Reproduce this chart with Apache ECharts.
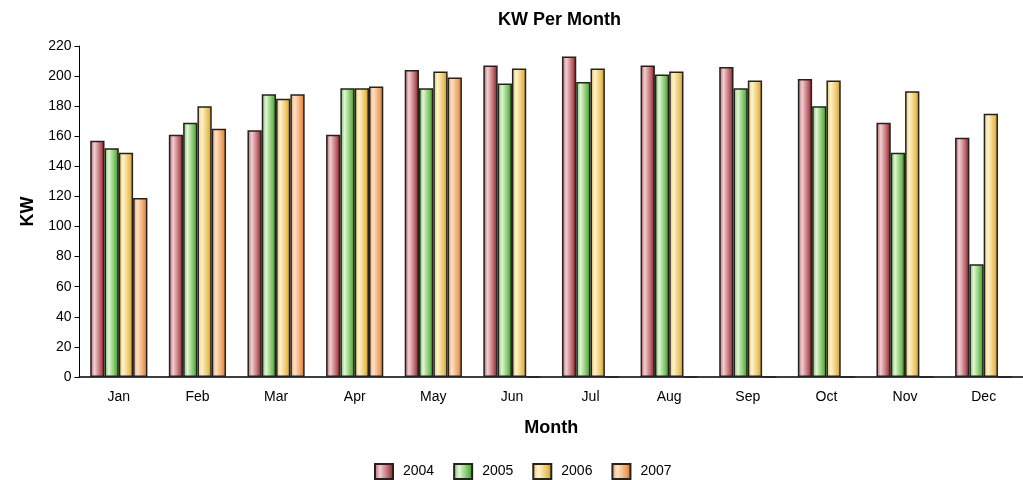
<!DOCTYPE html>
<html>
<head>
<meta charset="utf-8">
<title>KW Per Month</title>
<script src="https://cdn.jsdelivr.net/npm/echarts@6/dist/echarts.min.js"></script>
<style>
    html, body { margin: 0; padding: 0; background: #fff; }
    #chart { width: 1023px; height: 480px; }
</style>
</head>
<body>
<div id="chart"></div>
<script>
// data
var months = ['Jan', 'Feb', 'Mar', 'Apr', 'May', 'Jun', 'Jul', 'Aug', 'Sep', 'Oct', 'Nov', 'Dec'];
var years = ['2004', '2005', '2006', '2007'];
var kw2004 = [157, 161, 164, 161, 204, 207, 213, 207, 206, 198, 169, 159];
var kw2005 = [152, 169, 188, 192, 192, 195, 196, 201, 192, 180, 149, 75];
var kw2006 = [149, 180, 185, 192, 203, 205, 205, 203, 197, 197, 190, 175];
var kw2007 = [119, 165, 188, 193, 199, 0, 0, 0, 0, 0, 0, 0];

var fontName = '"Liberation Sans", Arial, sans-serif';

// cylinder like shading: mid colour, light streak, dark edge
function shade(mid, light, dark) {
    return new echarts.graphic.LinearGradient(0, 0, 1, 0, [
        { offset: 0, color: mid },
        { offset: 0.3, color: light },
        { offset: 0.75, color: mid },
        { offset: 1, color: dark }
    ]);
}

var colors = [
    shade('#b85c62', '#f0d0d3', '#7a1419'),
    shade('#74c05a', '#e2f5d5', '#368a22'),
    shade('#eac15a', '#fdf3cf', '#c69228'),
    shade('#eea05e', '#fde1c9', '#cc6c26')
];
var series_data = [kw2004, kw2005, kw2006, kw2007];

var myChart = echarts.init(document.getElementById('chart'));

var seriesList = [];
for (var i = 0; i < years.length; i++) {
    seriesList.push({
        name: years[i],
        type: 'bar',
        data: series_data[i],
        barWidth: 14.3,
        barGap: '0%',
        itemStyle: {
            color: colors[i],
            borderColor: '#222',
            borderWidth: 1.5
        }
    });
}

var option = {
    animation: false,
    title: {
        text: 'KW Per Month',
        left: 493,
        top: 6,
        textStyle: { fontFamily: fontName, fontSize: 18, fontWeight: 'bold', color: '#000' }
    },
    legend: {
        data: years,
        left: 369,
        top: 458,
        icon: 'rect',
        itemWidth: 18,
        itemHeight: 15,
        itemGap: 19,
        textStyle: { fontFamily: fontName, fontSize: 14, color: '#000', padding: [0, 0, 0, 5] }
    },
    grid: {
        left: 79.5,
        right: -11.7,
        top: 46,
        bottom: 103,
        containLabel: false
    },
    xAxis: {
        type: 'category',
        data: months,
        name: 'Month',
        nameLocation: 'middle',
        nameGap: 42,
        nameTextStyle: { fontFamily: fontName, fontSize: 18, fontWeight: 'bold', color: '#000' },
        axisLine: { lineStyle: { color: '#000', width: 1.5 } },
        axisTick: { alignWithLabel: true, length: 5, lineStyle: { color: '#000' } },
        axisLabel: { fontFamily: fontName, fontSize: 14, color: '#000', margin: 13 }
    },
    yAxis: {
        type: 'value',
        min: 0,
        max: 220,
        interval: 20,
        name: 'KW',
        nameLocation: 'middle',
        nameGap: 41,
        nameTextStyle: { fontFamily: fontName, fontSize: 18, fontWeight: 'bold', color: '#000' },
        axisLine: { show: true, lineStyle: { color: '#000', width: 1 } },
        axisTick: { show: true, length: 5, lineStyle: { color: '#000' } },
        axisLabel: { fontFamily: fontName, fontSize: 14, color: '#000', margin: 8 },
        splitLine: { show: false }
    },
    series: seriesList
};

myChart.setOption(option);
</script>
</body>
</html>
